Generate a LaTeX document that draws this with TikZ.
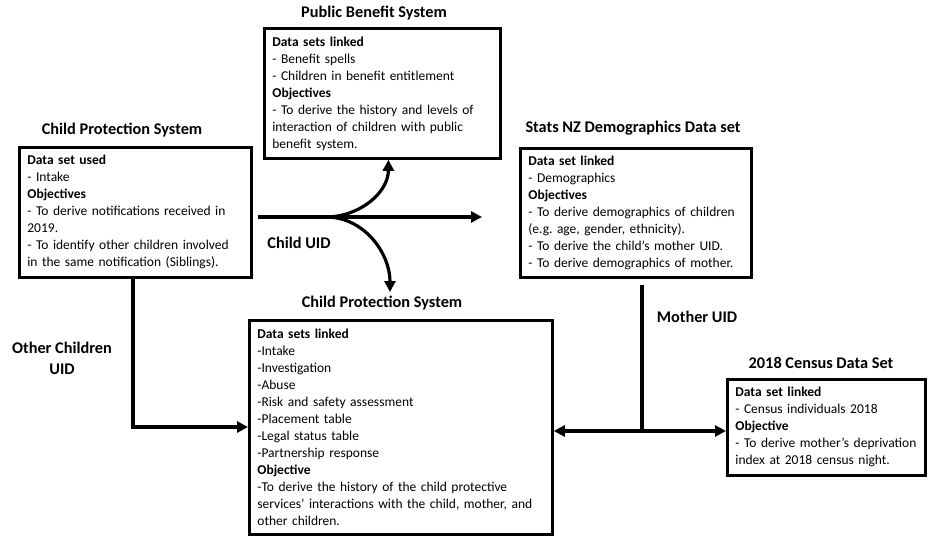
\documentclass[tikz,border=0pt]{standalone}
\usepackage{fontspec}
\setmainfont{Carlito}
\usetikzlibrary{arrows.meta}
\frenchspacing

\begin{document}
\begin{tikzpicture}[x=1pt,y=1pt,
  box/.style={draw,line width=2.8pt,anchor=north west,inner xsep=8pt,inner ysep=4pt,align=left,font=\fontsize{13.5}{17}\selectfont},
  heading/.style={font=\bfseries\fontsize{16.3}{18}\selectfont},
  uid/.style={font=\bfseries\fontsize{16.3}{21}\selectfont,align=center},
  link/.style={line width=3.2pt,-{Triangle[length=11pt,width=11pt]}},
  twoway/.style={line width=3.2pt,{Triangle[length=11pt,width=11pt]}-{Triangle[length=11pt,width=11pt]}}]
\useasboundingbox (0,0) rectangle (929,-538);

% titles
\node[heading] (pbtitle) at (374,-13) {Public Benefit System};
\node[heading] (cps1title) at (122,-130) {Child Protection System};
\node[heading] (statstitle) at (633,-128) {Stats NZ Demographics Data set};
\node[heading] (cps2title) at (382,-303) {Child Protection System};
\node[heading] (censustitle) at (821,-363) {2018 Census Data Set};

% boxes
\node[box,text width=216pt,minimum height=130pt] (cps1) at (18,-146) {\textbf{Data set used}\\
- Intake\\
\textbf{Objectives}\\
- To derive notifications received in\\
2019.\\
- To identify other children involved\\
in the same notification (Siblings).};

\node[box,text width=220pt,minimum height=130pt] (pb) at (263,-27) {\textbf{Data sets linked}\\
- Benefit spells\\
- Children in benefit entitlement\\
\textbf{Objectives}\\
- To derive the history and levels of\\
interaction of children with public\\
benefit system.};

\node[box,text width=215pt,minimum height=129pt] (stats) at (519,-147) {\textbf{Data set linked}\\
- Demographics\\
\textbf{Objectives}\\
- To derive demographics of children\\
(e.g. age, gender, ethnicity).\\
- To derive the child’s mother UID.\\
- To derive demographics of mother.};

\node[box,text width=287pt,minimum height=214pt] (cps2) at (248,-319) {\textbf{Data sets linked}\\
-Intake\\
-Investigation\\
-Abuse\\
-Risk and safety assessment\\
-Placement table\\
-Legal status table\\
-Partnership response\\
\textbf{Objective}\\
-To derive the history of the child protective\\
services’ interactions with the child, mother, and\\
other children.};

\node[box,text width=182pt,minimum height=96pt] (census) at (726,-378) {\textbf{Data set linked}\\
- Census individuals 2018\\
\textbf{Objective}\\
- To derive mother’s deprivation\\
index at 2018 census night.};

% labels
\node[uid] (childuid) at (299,-243) {Child UID};
\node[uid] (otheruid) at (62,-358) {Other Children\\UID};
\node[uid] (motheruid) at (697,-317) {Mother UID};

% connectors
\coordinate (uidstart) at (258,-217);
\coordinate (split) at (326,-217);
\coordinate (uidend) at (482,-217);
\coordinate (cpsin) at (390,-292);
\draw[link] (uidstart) -- (uidend);
\draw[link] (split) to[out=0,in=-90] ([xshift=6pt]pb.south);
\draw[link] (split) to[out=0,in=90] (cpsin);

\coordinate (oc) at (133,-427);
\draw[link] (cps1.south -| oc) |- (cps2.west |- oc);

\coordinate (mtop) at (642,-285);
\coordinate (mom) at (642,-431);
\draw[line width=3.2pt] (mtop) -- (mom);
\draw[twoway] (cps2.east |- mom) -- (census.west |- mom);
\end{tikzpicture}
\end{document}
